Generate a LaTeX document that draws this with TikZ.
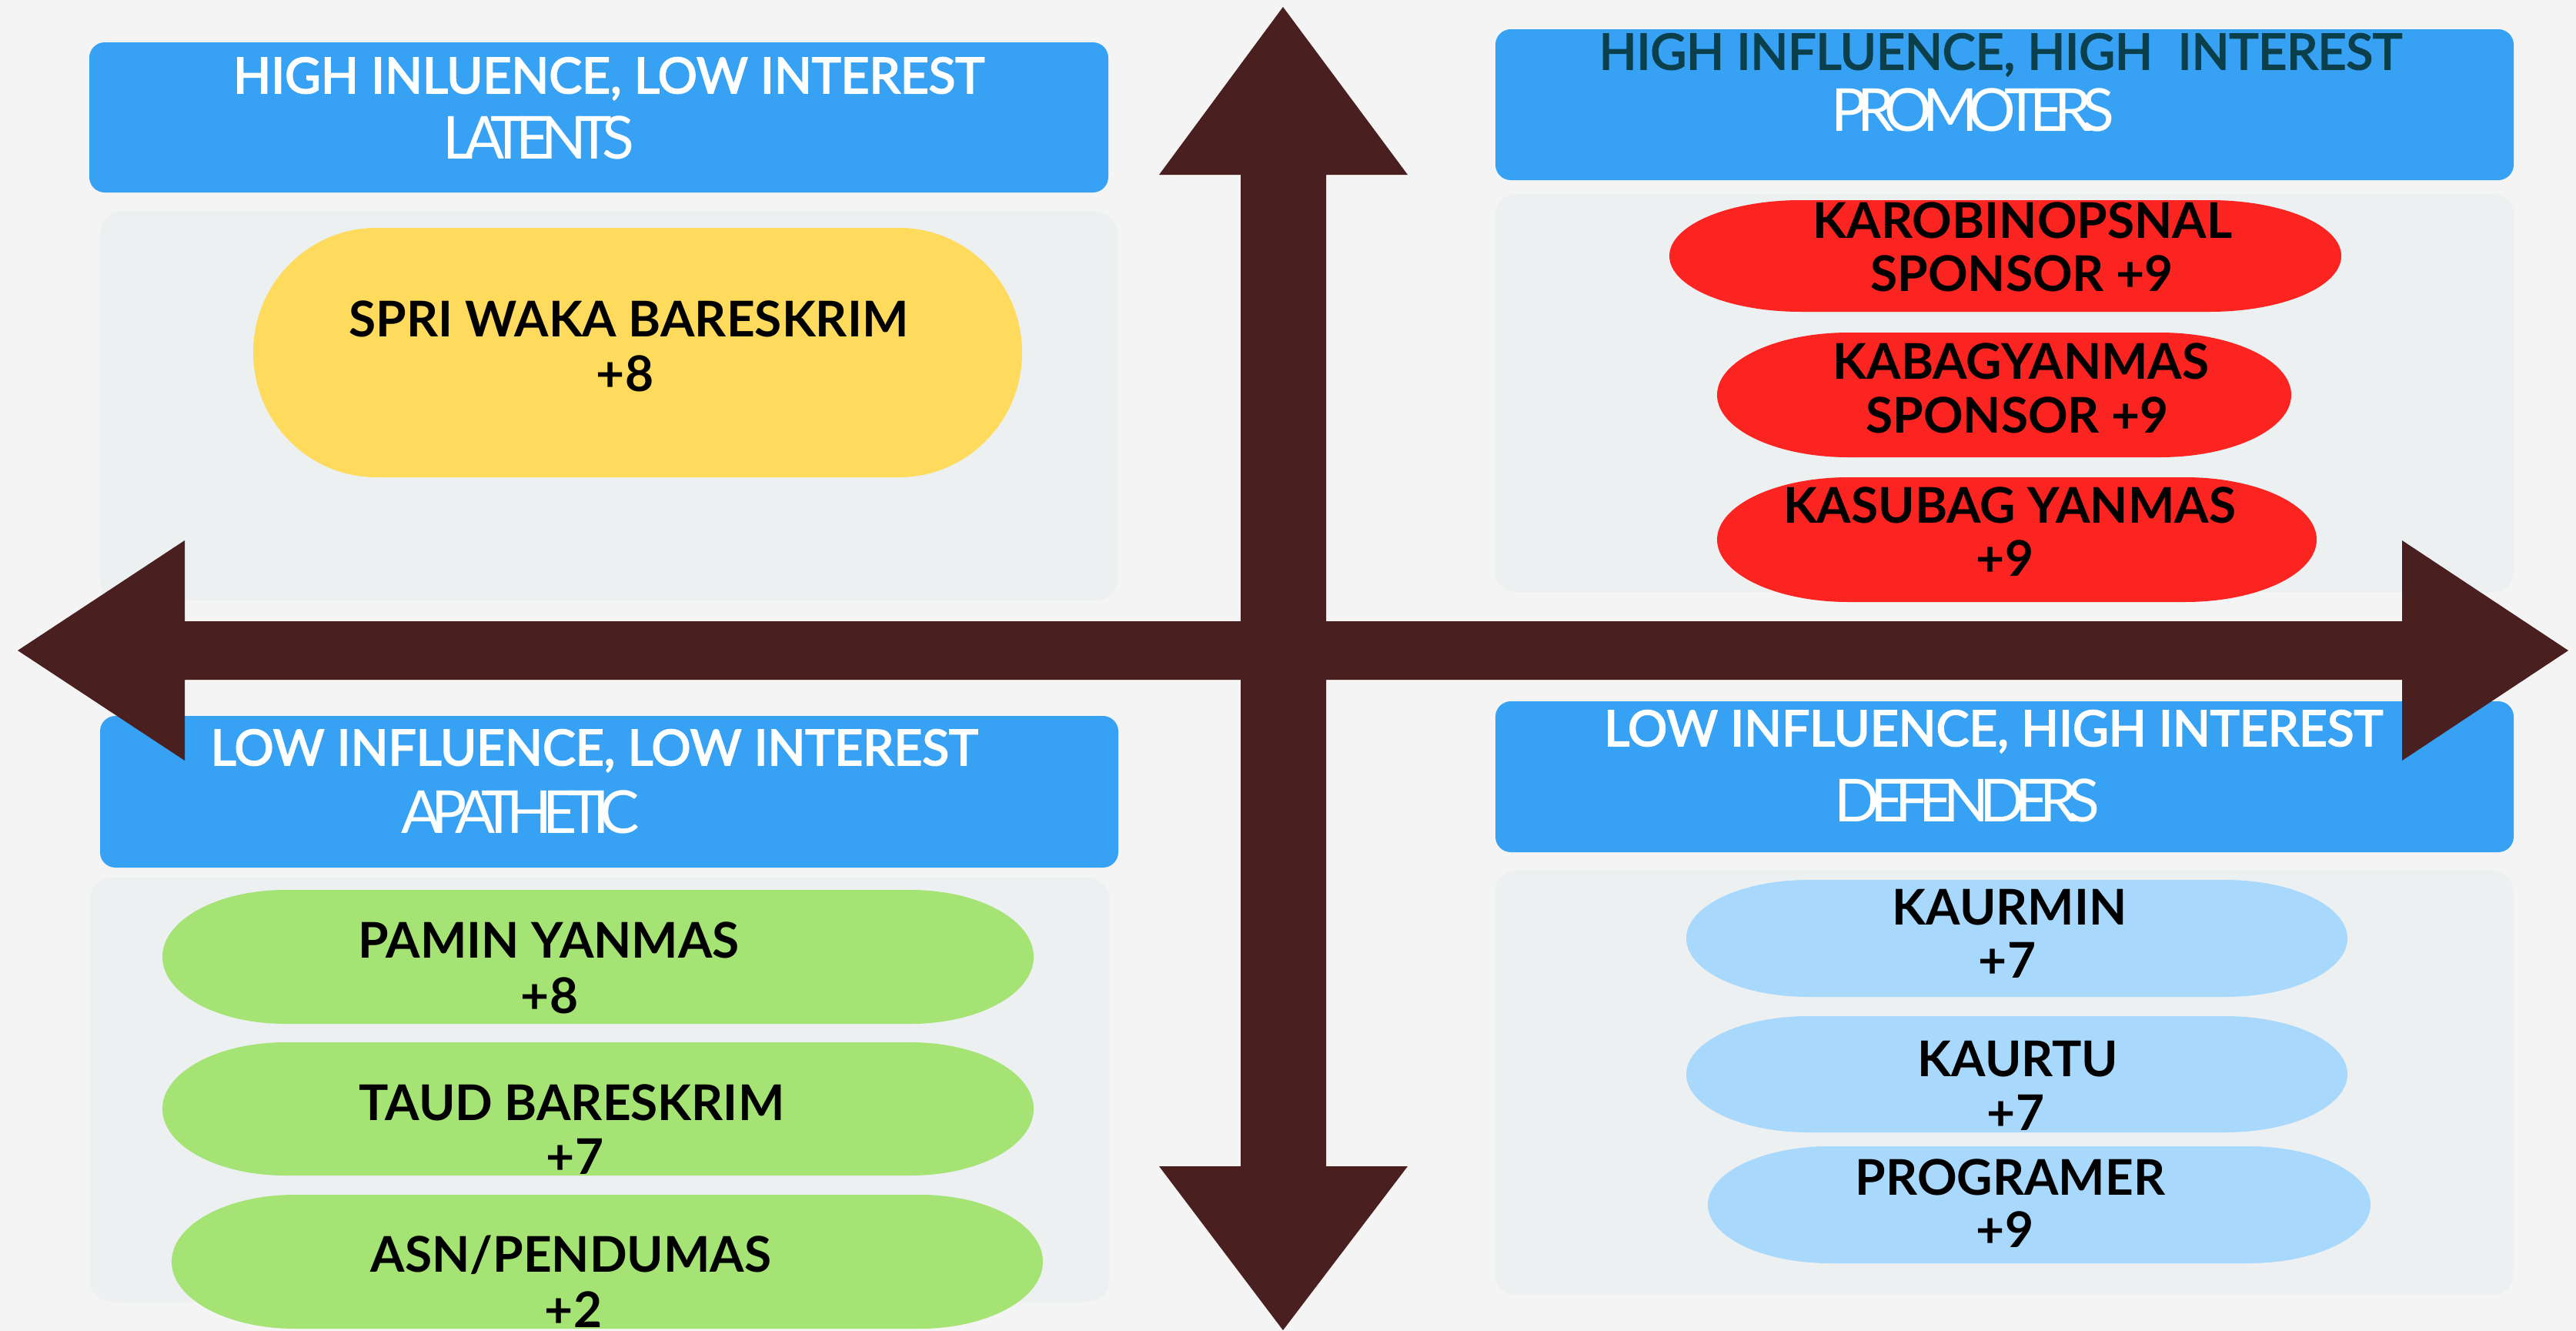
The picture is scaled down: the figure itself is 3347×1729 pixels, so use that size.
\documentclass[tikz,border=0pt]{standalone}
\usepackage{fontspec}
\setmainfont{Lato}
\newfontfamily\condfont[LetterSpace=-16]{Lato}
\newfontfamily\hdrfont[FakeBold=3]{Lato}
\definecolor{bgc}{HTML}{F4F4F4}
\definecolor{panelc}{HTML}{ECF0F1}
\definecolor{hblue}{HTML}{37A2F4}
\definecolor{pyellow}{HTML}{FEDB5C}
\definecolor{pred}{HTML}{FC2421}
\definecolor{pgreen}{HTML}{A5E374}
\definecolor{pblue}{HTML}{A8D9FD}
\definecolor{arrowc}{HTML}{4A1F20}
\definecolor{tealc}{HTML}{0B3F4B}
\newcommand\pillshape[6]{%
  \fill[#1] ({#2+#6},#3) -- ({#4-#6},#3)
    arc[start angle=-90,end angle=90,x radius=#6,y radius={(#5-#3)/2}]
    -- ({#2+#6},#5)
    arc[start angle=90,end angle=270,x radius=#6,y radius={(#5-#3)/2}] -- cycle;}
\begin{document}
\begin{tikzpicture}[x=1pt,y=-1pt,
  hdrone/.style={font=\hdrfont\fontsize{64}{70}\selectfont, text=white, anchor=base, inner sep=0pt},
  hdrtwo/.style={font=\condfont\fontsize{77}{80}\selectfont, text=white, anchor=base, inner sep=0pt},
  lbl/.style={font=\bfseries\fontsize{64}{70}\selectfont, text=black, anchor=base, inner sep=0pt},
  hdrbox/.style={fill=hblue, rounded corners=20pt},
  panelbox/.style={fill=panelc, rounded corners=28pt}]
\useasboundingbox (0,0) rectangle (3347,1729);
\fill[bgc] (0,0) rectangle (3347,1729);
% body panels
\fill[panelbox] (130,275) rectangle (1452,780);
\fill[panelbox] (1942,252) rectangle (3267,769);
\fill[panelbox] (117,1140) rectangle (1441,1691);
\fill[panelbox] (1942,1131) rectangle (3266,1682);
% headers
\fill[hdrbox] (116,55) rectangle (1440,250);
\fill[hdrbox] (1943,38) rectangle (3266,234);
\fill[hdrbox] (130,930) rectangle (1453,1127);
\fill[hdrbox] (1943,911) rectangle (3266,1107);
\node[hdrone] (tl1) at (791,121) {HIGH INLUENCE, LOW INTEREST};
\node[hdrtwo] (tl2) at (700,206) {LATENTS};
\node[hdrone, text=tealc] (tr1) at (2599,90) {HIGH INFLUENCE, HIGH\ \ INTEREST};
\node[hdrtwo] (tr2) at (2563,170) {PROMOTERS};
\node[hdrone] (bl1) at (772,994) {LOW INFLUENCE, LOW INTEREST};
\node[hdrtwo] (bl2) at (676,1082) {APATHETIC};
\node[hdrone] (br1) at (2590,969) {LOW INFLUENCE, HIGH INTEREST};
\node[hdrtwo] (br2) at (2556,1067) {DEFENDERS};
% pills
\pillshape{pyellow}{329}{296}{1328}{620}{160}
\pillshape{pred}{2169}{260}{3042}{405}{171}
\pillshape{pred}{2231}{432}{2977}{594}{171}
\pillshape{pred}{2231}{620}{3010}{782}{171}
\pillshape{pgreen}{211}{1156}{1343}{1330}{160}
\pillshape{pgreen}{211}{1354}{1343}{1527}{160}
\pillshape{pgreen}{223}{1552}{1355}{1726}{160}
\pillshape{pblue}{2191}{1143}{3050}{1295}{159}
\pillshape{pblue}{2191}{1320}{3050}{1471}{159}
\pillshape{pblue}{2219}{1489}{3080}{1641}{159}
% pill texts
\node[lbl] (ya) at (817,437) {SPRI WAKA BARESKRIM};
\node[lbl] (yb) at (812,508) {+8};
\node[lbl] (r1a) at (2628,309) {KAROBINOPSNAL};
\node[lbl] (r1b) at (2627,378) {SPONSOR +9};
\node[lbl] (r2a) at (2626,492) {KABAGYANMAS};
\node[lbl] (r2b) at (2621,562) {SPONSOR +9};
\node[lbl] (r3a) at (2611,679) {KASUBAG YANMAS};
\node[lbl] (r3b) at (2605,748) {+9};
\node[lbl] (g1a) at (713,1244) {PAMIN YANMAS};
\node[lbl] (g1b) at (714,1316) {+8};
\node[lbl] (g2a) at (743,1455) {TAUD BARESKRIM};
\node[lbl] (g2b) at (747,1525) {+7};
\node[lbl] (g3a) at (742,1652) {ASN/PENDUMAS};
\node[lbl] (g3b) at (745,1724) {+2};
\node[lbl] (b1a) at (2611,1201) {KAURMIN};
\node[lbl] (b1b) at (2608,1270) {+7};
\node[lbl] (b2a) at (2622,1398) {KAURTU};
\node[lbl] (b2b) at (2619,1468) {+7};
\node[lbl] (b3a) at (2612,1552) {PROGRAMER};
\node[lbl] (b3b) at (2605,1620) {+9};
% axes arrows
\fill[arrowc] (1667,9) -- (1829,227) -- (1723,227) -- (1723,1515) -- (1829,1515)
  -- (1667,1728) -- (1506,1515) -- (1612,1515) -- (1612,227) -- (1506,227) -- cycle;
\fill[arrowc] (23,845) -- (240,702) -- (240,807) -- (3121,807) -- (3121,702)
  -- (3337,845) -- (3121,988) -- (3121,883) -- (240,883) -- (240,988) -- cycle;
\end{tikzpicture}
\end{document}
